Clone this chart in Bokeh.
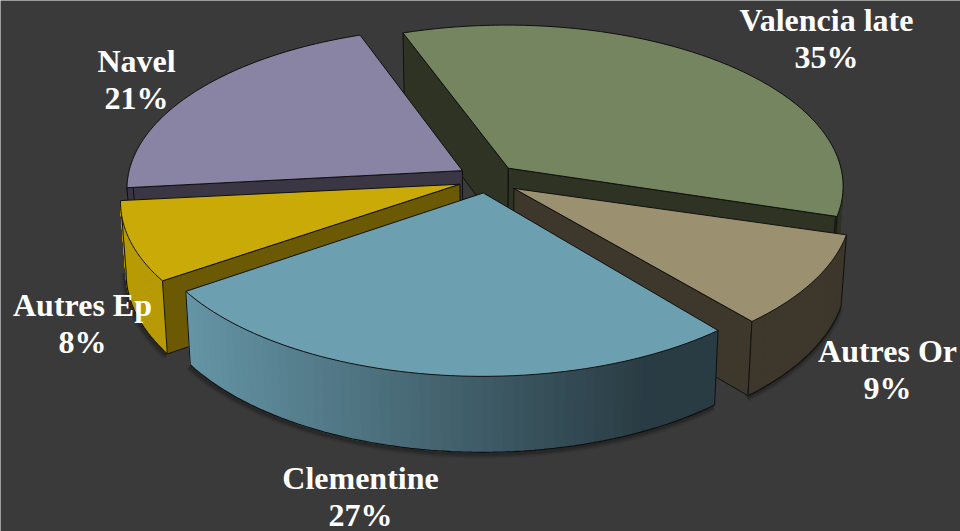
import numpy as np
from bokeh.plotting import figure
from bokeh.models import Range1d, ColumnDataSource
from bokeh.core.properties import value
from bokeh.embed import file_html
from bokeh.resources import INLINE

categories = ["Valencia late", "Autres Or", "Clementine", "Autres Ep", "Navel"]
shares = [35, 9, 27, 8, 21]

BG = "#3a3a3a"
TOP = {"Valencia late": "#74855f", "Autres Or": "#9b9070", "Clementine": "#6c9fb0",
       "Autres Ep": "#c9aa06", "Navel": "#8a84a4"}
CUT = {"Valencia late": "#2e3324", "Autres Or": "#3d382b", "Clementine": "#2a3d45",
       "Autres Ep": "#6b5a03", "Navel": "#3a3644"}
ARC_LEFT = {"Valencia late": "#2e3324", "Autres Or": "#3d382b", "Clementine": "#6595a6",
            "Autres Ep": "#b89b05", "Navel": "#3a3644"}
ARC_RIGHT = {"Valencia late": "#2e3324", "Autres Or": "#3d382b", "Clementine": "#293b43",
             "Autres Ep": "#b89b05", "Navel": "#3a3644"}
DRAW_ORDER = ["Valencia late", "Navel", "Autres Ep", "Autres Or", "Clementine"]
LABEL_POS = {"Valencia late": (826, 19), "Autres Or": (887, 350), "Clementine": (360, 477),
             "Autres Ep": (82, 304), "Navel": (136, 60)}
LINE_GAP = 37

# small angular corrections for the foreshortening of the drawn pie (degrees at each slice's two ends)
ANGLE_TRIM = {"Valencia late": (-1.0, 0.2), "Autres Or": (-0.2, 0.4), "Clementine": (1.0, -1.0),
              "Autres Ep": (-1.2, -1.5), "Navel": (-1.5, -1.2)}
NUDGE = {"Valencia late": (0, 0), "Autres Or": (1, 2), "Clementine": (0, 0),
         "Autres Ep": (1, 1), "Navel": (0, 0)}

START = -19.0
EXPLODE = 0.09
CX, CY, A, B, K = 487.0, 178.0, 335.0, 160.5, 0.107
DEPTH, A_BOT, B_BOT = 70.0, 0.985, 1.03


def project(X, Y, bottom=False):
    w = 1 + K * Y
    if bottom:
        return CX + A * A_BOT * X / w, CY + DEPTH - B * B_BOT * Y / w
    return CX + A * X / w, CY - B * Y / w


def mix(c1, c2, t):
    a = [int(c1[i:i + 2], 16) for i in (1, 3, 5)]
    b = [int(c2[i:i + 2], 16) for i in (1, 3, 5)]
    return "#%02x%02x%02x" % tuple(int(round(u + (v - u) * t)) for u, v in zip(a, b))


p = figure(width=960, height=531, output_backend="svg", toolbar_location=None,
           x_range=Range1d(0, 960), y_range=Range1d(531, 0), min_border=0,
           background_fill_color=BG, border_fill_color=BG, outline_line_color=None)
p.axis.visible = False
p.grid.visible = False

edges = START + np.concatenate([[0], np.cumsum(shares)]) * 360.0 / sum(shares)
span = {c: (edges[i], edges[i + 1]) for i, c in enumerate(categories)}
OUT = "#101010"

for c in DRAW_ORDER:
    a0, a1 = span[c]
    mid = np.radians((a0 + a1) / 2)
    a0 += ANGLE_TRIM[c][0]
    a1 += ANGLE_TRIM[c][1]
    ox, oy = EXPLODE * np.sin(mid), EXPLODE * np.cos(mid)
    phi = np.radians(np.linspace(a0, a1, 61))
    X, Y = ox + np.sin(phi), oy + np.cos(phi)
    nx, ny = NUDGE[c]
    tx, ty = project(X, Y)
    bx, by = project(X, Y, True)
    ax_t, ay_t = project(np.array([ox]), np.array([oy]))
    ax_b, ay_b = project(np.array([ox]), np.array([oy]), True)
    ax_t, ax_b = ax_t + nx, ax_b + nx
    ay_t, ay_b = ay_t + ny, ay_b + ny

    # soft shadow under the front rim
    front = np.cos(phi) < 0.05
    if front.any():
        for width, alpha in ((9, 0.06), (6, 0.10), (3, 0.16)):
            p.line(bx[front] - 1, by[front] + 2, line_color="black", line_width=width, line_alpha=alpha)

    # cut faces that look towards the viewer
    for ang, idx, sign in ((a0, 0, -1), (a1, -1, 1)):
        if np.cos(np.radians(ang + sign * 90)) < 0:
            p.patch([ax_t[0], tx[idx], bx[idx], ax_b[0]], [ay_t[0], ty[idx], by[idx], ay_b[0]],
                    fill_color=CUT[c], line_color=OUT, line_width=1)

    # outer wall, drawn as strips so that it can carry a horizontal gradient
    if front.any():
        xs, ys, cols = [], [], []
        x_min, x_max = 187.0, 718.0
        for i in range(len(phi) - 1):
            if front[i] or front[i + 1]:
                xs.append([tx[i], tx[i + 1], bx[i + 1], bx[i]])
                ys.append([ty[i], ty[i + 1], by[i + 1], by[i]])
                t = np.clip((tx[i] - x_min) / (x_max - x_min) / 0.88, 0, 1)
                cols.append(mix(ARC_LEFT[c], ARC_RIGHT[c], t))
        src = ColumnDataSource(dict(xs=xs, ys=ys, color=cols))
        p.patches("xs", "ys", source=src, fill_color="color", line_color="color", line_width=1)
        p.line(bx[front], by[front], line_color=OUT, line_width=1.2)
        ends = np.where(front)[0]
        for i in (ends[0], ends[-1]):
            p.line([tx[i], bx[i]], [ty[i], by[i]], line_color=OUT, line_width=1)

    # top face
    p.patch(np.concatenate([ax_t, tx]), np.concatenate([ay_t, ty]),
            fill_color=TOP[c], line_color=OUT, line_width=1)

for c, s in zip(categories, shares):
    lx, ly = LABEL_POS[c]
    p.text([lx, lx], [ly, ly + LINE_GAP], text=[c, f"{s}%"], text_color="white",
           text_font=value("Liberation Serif"), text_font_style="bold", text_font_size="32px",
           text_align="center", text_baseline="middle")

open("out.html", "w").write(file_html(p, INLINE))
